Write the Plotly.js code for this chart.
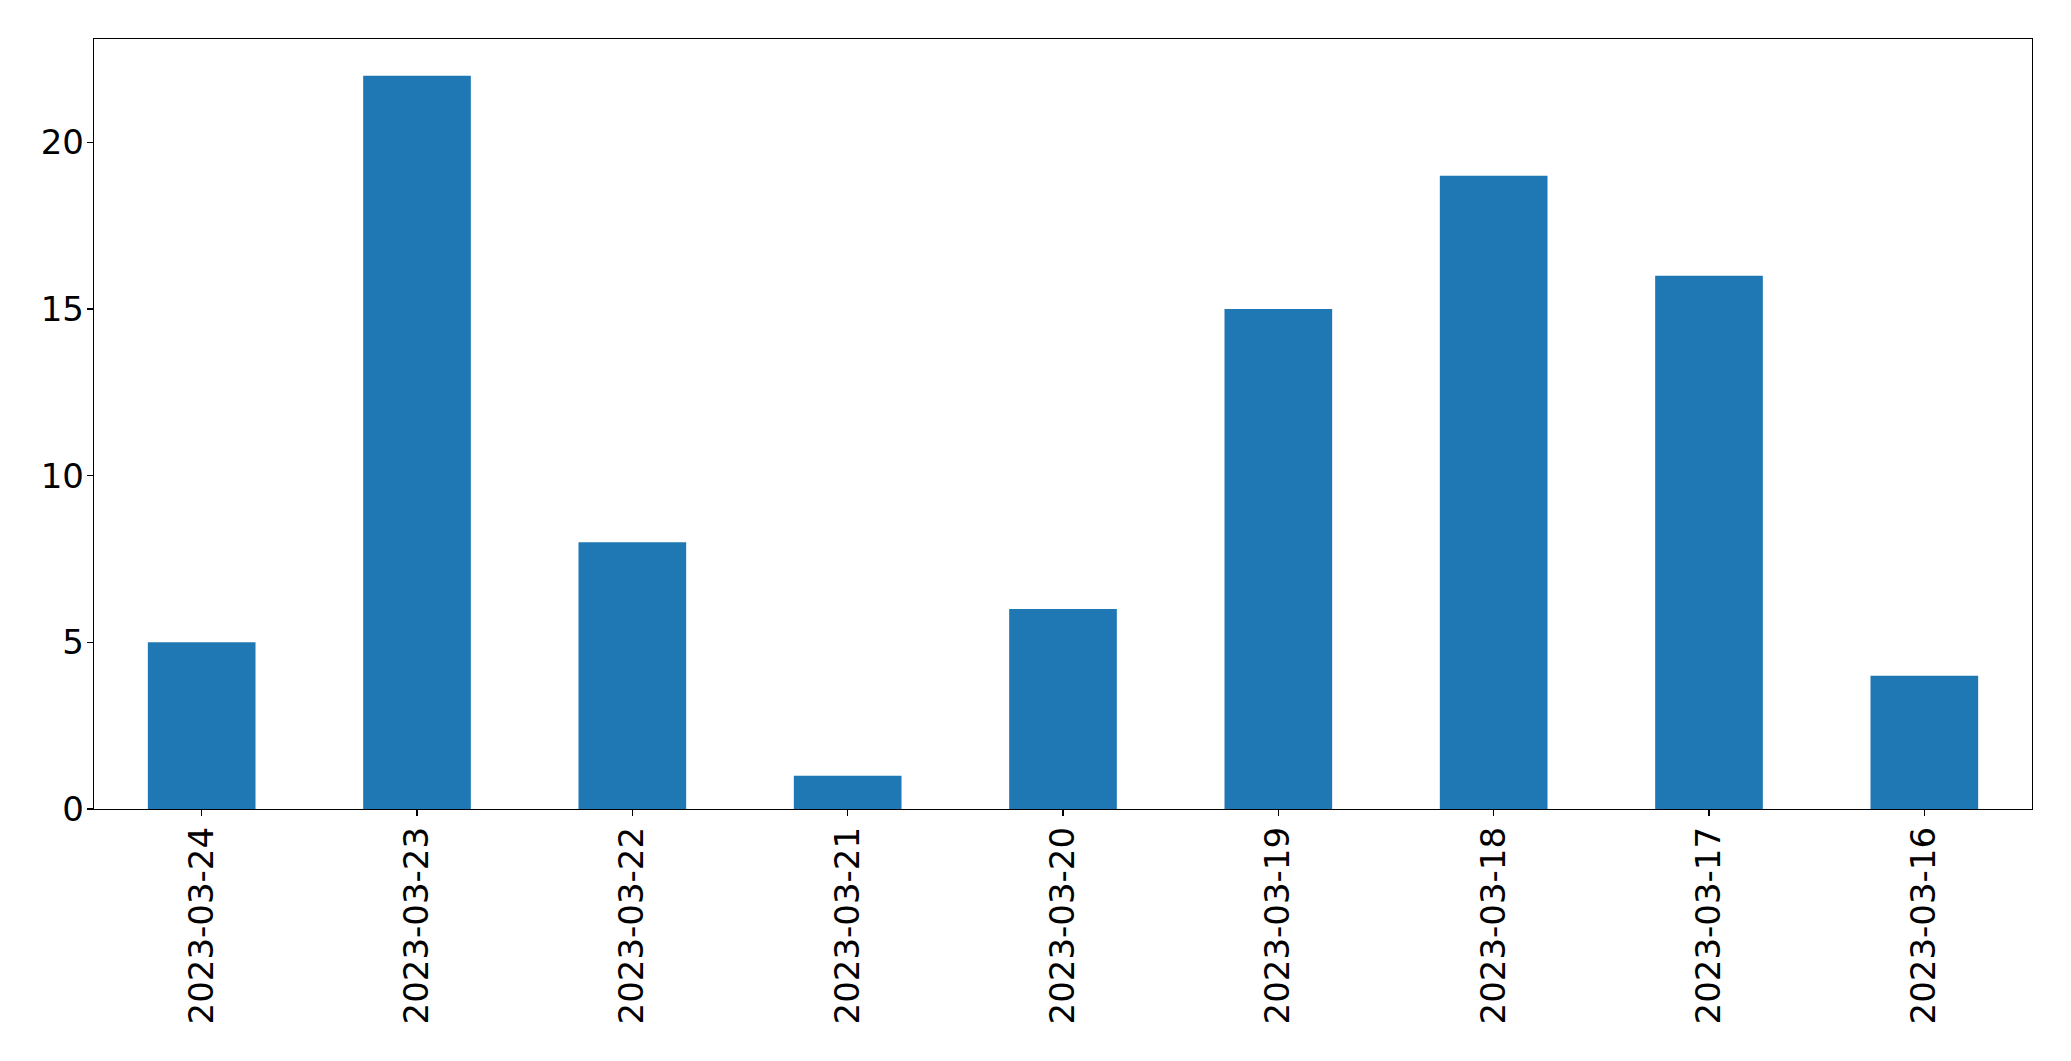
<!DOCTYPE html>
<html>
<head>
<meta charset="utf-8">
<script src="https://cdn.plot.ly/plotly-3.0.1.min.js"></script>
<style>html,body{margin:0;padding:0;background:#fff;}#chart{width:2071px;height:1061px;}</style>
</head>
<body>
<div id="chart"></div>
<script>
const categories = ["2023-03-24","2023-03-23","2023-03-22","2023-03-21","2023-03-20","2023-03-19","2023-03-18","2023-03-17","2023-03-16"];
const values = [5, 22, 8, 1, 6, 15, 19, 16, 4];
const yTicks = [0, 5, 10, 15, 20];

const trace = {
  type: 'bar',
  x: categories,
  y: values,
  width: 0.5,
  marker: {color: '#1f77b4', line: {width: 0}},
  hoverinfo: 'x+y'
};

const font = {family: 'DejaVu Sans, sans-serif', size: 34, color: '#000'};

const layout = {
  width: 2071,
  height: 1061,
  margin: {l: 94, r: 39, t: 39, b: 252, pad: 0},
  paper_bgcolor: '#fff',
  plot_bgcolor: '#fff',
  font: font,
  showlegend: false,
  bargap: 0.5,
  xaxis: {
    type: 'category',
    range: [-0.5, 8.5],
    tickangle: -90,
    ticks: 'outside',
    ticklen: 6,
    tickwidth: 1.3,
    tickcolor: '#000',
    showline: true,
    linecolor: '#000',
    linewidth: 1.3,
    mirror: true,
    showgrid: false,
    zeroline: false,
    tickfont: font,
    ticklabelstandoff: -3
  },
  yaxis: {
    range: [0, 23.1],
    tickvals: yTicks,
    ticktext: yTicks.map(String),
    ticks: 'outside',
    ticklen: 6,
    tickwidth: 1.3,
    tickcolor: '#000',
    showline: true,
    linecolor: '#000',
    linewidth: 1.3,
    mirror: true,
    showgrid: false,
    zeroline: false,
    tickfont: font,
    ticklabelstandoff: -4
  }
};

Plotly.newPlot('chart', [trace], layout, {displayModeBar: false, staticPlot: true});
</script>
</body>
</html>
